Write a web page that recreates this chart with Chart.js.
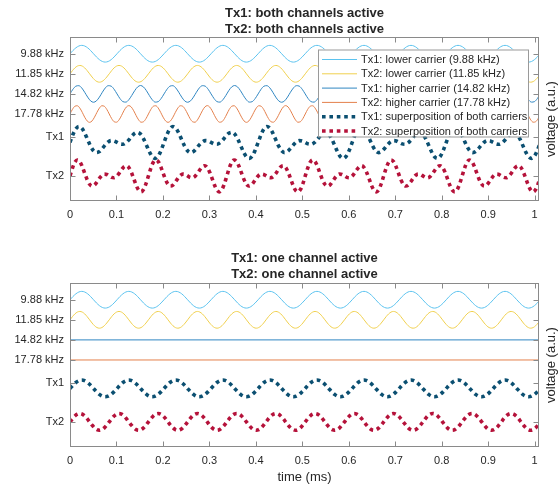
<!DOCTYPE html>
<html><head><meta charset="utf-8">
<script src="https://cdn.jsdelivr.net/npm/chart.js@4.4.1/dist/chart.umd.min.js"></script>
<style>
html,body{margin:0;padding:0;background:#fff;}
#wrap{position:relative;width:559px;height:485px;overflow:hidden;}
.box{position:absolute;left:0;width:559px;}
canvas{display:block;}
</style></head><body>
<div id="wrap">
<div class="box" style="top:0;height:240px"><canvas id="c1" width="559" height="240"></canvas></div>
<div class="box" style="top:240px;height:245px"><canvas id="c2" width="559" height="245"></canvas></div>
</div>
<script>
// ---------- DATA ----------
// sample times (ms), grid for the Tx1 carriers (9.88 / 14.82 kHz)
const timeA = [
0,.0063,.0127,.0190,.0253,.0316,.0380,.0443,.0506,.0569,.0633,.0696,.0759,.0822,.0886,.0949,
.1012,.1075,.1139,.1202,.1265,.1328,.1392,.1455,.1518,.1581,.1645,.1708,.1771,.1835,.1898,.1961,
.2024,.2088,.2151,.2214,.2277,.2341,.2404,.2467,.2530,.2594,.2657,.2720,.2783,.2847,.2910,.2973,
.3036,.3100,.3163,.3226,.3289,.3353,.3416,.3479,.3543,.3606,.3669,.3732,.3796,.3859,.3922,.3985,
.4049,.4112,.4175,.4238,.4302,.4365,.4428,.4491,.4555,.4618,.4681,.4744,.4808,.4871,.4934,.4997,
.5061,.5124,.5187,.5251,.5314,.5377,.5440,.5504,.5567,.5630,.5693,.5757,.5820,.5883,.5946,.6010,
.6073,.6136,.6199,.6263,.6326,.6389,.6452,.6516,.6579,.6642,.6705,.6769,.6832,.6895,.6959,.7022,
.7085,.7148,.7212,.7275,.7338,.7401,.7465,.7528,.7591,.7654,.7718,.7781,.7844,.7907,.7971,.8034,
.8097,.8160,.8224,.8287,.8350,.8413,.8477,.8540,.8603,.8667,.8730,.8793,.8856,.8920,.8983,.9046,
.9109,.9173,.9236,.9299,.9362,.9426,.9489,.9552,.9615,.9679,.9742,.9805,.9868,.9932,.9995,1.0058,
1.0122];
// sample times (ms), grid for the Tx2 carriers (11.85 / 17.78 kHz)
const timeB = [
0,.0053,.0105,.0158,.0211,.0264,.0316,.0369,.0422,.0475,.0527,.0580,.0633,.0686,.0738,.0791,
.0844,.0897,.0949,.1002,.1055,.1108,.1160,.1213,.1266,.1319,.1371,.1424,.1477,.1530,.1582,.1635,
.1688,.1741,.1793,.1846,.1899,.1951,.2004,.2057,.2110,.2162,.2215,.2268,.2321,.2373,.2426,.2479,
.2532,.2584,.2637,.2690,.2743,.2795,.2848,.2901,.2954,.3006,.3059,.3112,.3165,.3217,.3270,.3323,
.3376,.3428,.3481,.3534,.3586,.3639,.3692,.3745,.3797,.3850,.3903,.3956,.4008,.4061,.4114,.4167,
.4219,.4272,.4325,.4378,.4430,.4483,.4536,.4589,.4641,.4694,.4747,.4800,.4852,.4905,.4958,.5011,
.5063,.5116,.5169,.5222,.5274,.5327,.5380,.5432,.5485,.5538,.5591,.5643,.5696,.5749,.5802,.5854,
.5907,.5960,.6013,.6065,.6118,.6171,.6224,.6276,.6329,.6382,.6435,.6487,.6540,.6593,.6646,.6698,
.6751,.6804,.6857,.6909,.6962,.7015,.7068,.7120,.7173,.7226,.7278,.7331,.7384,.7437,.7489,.7542,
.7595,.7648,.7700,.7753,.7806,.7859,.7911,.7964,.8017,.8070,.8122,.8175,.8228,.8281,.8333,.8386,
.8439,.8492,.8544,.8597,.8650,.8703,.8755,.8808,.8861,.8914,.8966,.9019,.9072,.9124,.9177,.9230,
.9283,.9335,.9388,.9441,.9494,.9546,.9599,.9652,.9705,.9757,.9810,.9863,.9916,.9968,1.0021,1.0074,
1.0127];
// Tx1 lower carrier, 9.88 kHz (a.u.)
const lower988 = [
0,.383,.707,.924,1,.924,.707,.383,0,-.383,-.707,-.924,-1,-.924,-.707,-.383,
0,.383,.707,.924,1,.924,.707,.383,0,-.383,-.707,-.924,-1,-.924,-.707,-.383,
0,.383,.707,.924,1,.924,.707,.383,0,-.383,-.707,-.924,-1,-.924,-.707,-.383,
0,.383,.707,.924,1,.924,.707,.383,0,-.383,-.707,-.924,-1,-.924,-.707,-.383,
0,.383,.707,.924,1,.924,.707,.383,0,-.383,-.707,-.924,-1,-.924,-.707,-.383,
0,.383,.707,.924,1,.924,.707,.383,0,-.383,-.707,-.924,-1,-.924,-.707,-.383,
0,.383,.707,.924,1,.924,.707,.383,0,-.383,-.707,-.924,-1,-.924,-.707,-.383,
0,.383,.707,.924,1,.924,.707,.383,0,-.383,-.707,-.924,-1,-.924,-.707,-.383,
0,.383,.707,.924,1,.924,.707,.383,0,-.383,-.707,-.924,-1,-.924,-.707,-.383,
0,.383,.707,.924,1,.924,.707,.383,0,-.383,-.707,-.924,-1,-.924,-.707,-.383,
0];
// Tx2 lower carrier, 11.85 kHz (a.u.)
const lower1185 = [
0,.383,.707,.924,1,.924,.707,.383,0,-.383,-.707,-.924,-1,-.924,-.707,-.383,
0,.383,.707,.924,1,.924,.707,.383,0,-.383,-.707,-.924,-1,-.924,-.707,-.383,
0,.383,.707,.924,1,.924,.707,.383,0,-.383,-.707,-.924,-1,-.924,-.707,-.383,
0,.383,.707,.924,1,.924,.707,.383,0,-.383,-.707,-.924,-1,-.924,-.707,-.383,
0,.383,.707,.924,1,.924,.707,.383,0,-.383,-.707,-.924,-1,-.924,-.707,-.383,
0,.383,.707,.924,1,.924,.707,.383,0,-.383,-.707,-.924,-1,-.924,-.707,-.383,
0,.383,.707,.924,1,.924,.707,.383,0,-.383,-.707,-.924,-1,-.924,-.707,-.383,
0,.383,.707,.924,1,.924,.707,.383,0,-.383,-.707,-.924,-1,-.924,-.707,-.383,
0,.383,.707,.924,1,.924,.707,.383,0,-.383,-.707,-.924,-1,-.924,-.707,-.383,
0,.383,.707,.924,1,.924,.707,.383,0,-.383,-.707,-.924,-1,-.924,-.707,-.383,
0,.383,.707,.924,1,.924,.707,.383,0,-.383,-.707,-.924,-1,-.924,-.707,-.383,
0,.383,.707,.924,1,.924,.707,.383,0,-.383,-.707,-.924,-1,-.924,-.707,-.383,
0];
// Tx1 higher carrier, 14.82 kHz (a.u.)
const higher1482 = [
0,.556,.924,.981,.707,.195,-.383,-.831,-1,-.831,-.383,.195,.707,.981,.924,.556,0,-.556,-.924,-.981,-.707,-.195,.383,.831,1,.831,.383,-.195,-.707,-.981,-.924,-.556,
0,.556,.924,.981,.707,.195,-.383,-.831,-1,-.831,-.383,.195,.707,.981,.924,.556,0,-.556,-.924,-.981,-.707,-.195,.383,.831,1,.831,.383,-.195,-.707,-.981,-.924,-.556,
0,.556,.924,.981,.707,.195,-.383,-.831,-1,-.831,-.383,.195,.707,.981,.924,.556,0,-.556,-.924,-.981,-.707,-.195,.383,.831,1,.831,.383,-.195,-.707,-.981,-.924,-.556,
0,.556,.924,.981,.707,.195,-.383,-.831,-1,-.831,-.383,.195,.707,.981,.924,.556,0,-.556,-.924,-.981,-.707,-.195,.383,.831,1,.831,.383,-.195,-.707,-.981,-.924,-.556,
0,.556,.924,.981,.707,.195,-.383,-.831,-1,-.831,-.383,.195,.707,.981,.924,.556,0,-.556,-.924,-.981,-.707,-.195,.383,.831,1,.831,.383,-.195,-.707,-.981,-.924,-.556,
0];
// Tx2 higher carrier, 17.78 kHz (a.u.)
const higher1778 = [
0,.556,.924,.981,.707,.195,-.383,-.831,-1,-.831,-.383,.195,.707,.981,.924,.556,0,-.556,-.924,-.981,-.707,-.195,.383,.831,1,.831,.383,-.195,-.707,-.981,-.924,-.556,
0,.556,.924,.981,.707,.195,-.383,-.831,-1,-.831,-.383,.195,.707,.981,.924,.556,0,-.556,-.924,-.981,-.707,-.195,.383,.831,1,.831,.383,-.195,-.707,-.981,-.924,-.556,
0,.556,.924,.981,.707,.195,-.383,-.831,-1,-.831,-.383,.195,.707,.981,.924,.556,0,-.556,-.924,-.981,-.707,-.195,.383,.831,1,.831,.383,-.195,-.707,-.981,-.924,-.556,
0,.556,.924,.981,.707,.195,-.383,-.831,-1,-.831,-.383,.195,.707,.981,.924,.556,0,-.556,-.924,-.981,-.707,-.195,.383,.831,1,.831,.383,-.195,-.707,-.981,-.924,-.556,
0,.556,.924,.981,.707,.195,-.383,-.831,-1,-.831,-.383,.195,.707,.981,.924,.556,0,-.556,-.924,-.981,-.707,-.195,.383,.831,1,.831,.383,-.195,-.707,-.981,-.924,-.556,
0,.556,.924,.981,.707,.195,-.383,-.831,-1,-.831,-.383,.195,.707,.981,.924,.556,0,-.556,-.924,-.981,-.707,-.195,.383,.831,1,.831,.383,-.195,-.707,-.981,-.924,-.556,
0];
// Tx1 superposition of both carriers, both channels active (a.u.)
const tx1Both = [
0,.939,1.631,1.905,1.707,1.119,.324,-.448,-1,-1.214,-1.09,-.729,-.293,.057,.217,.173,0,-.173,-.217,-.057,.293,.729,1.09,1.214,1,.448,-.324,-1.119,-1.707,-1.905,-1.631,-.939,
0,.939,1.631,1.905,1.707,1.119,.324,-.448,-1,-1.214,-1.09,-.729,-.293,.057,.217,.173,0,-.173,-.217,-.057,.293,.729,1.09,1.214,1,.448,-.324,-1.119,-1.707,-1.905,-1.631,-.939,
0,.939,1.631,1.905,1.707,1.119,.324,-.448,-1,-1.214,-1.09,-.729,-.293,.057,.217,.173,0,-.173,-.217,-.057,.293,.729,1.09,1.214,1,.448,-.324,-1.119,-1.707,-1.905,-1.631,-.939,
0,.939,1.631,1.905,1.707,1.119,.324,-.448,-1,-1.214,-1.09,-.729,-.293,.057,.217,.173,0,-.173,-.217,-.057,.293,.729,1.09,1.214,1,.448,-.324,-1.119,-1.707,-1.905,-1.631,-.939,
0,.939,1.631,1.905,1.707,1.119,.324,-.448,-1,-1.214,-1.09,-.729,-.293,.057,.217,.173,0,-.173,-.217,-.057,.293,.729,1.09,1.214,1,.448,-.324,-1.119,-1.707,-1.905,-1.631,-.939,
0];
// Tx2 superposition of both carriers, both channels active (a.u.)
const tx2Both = [
0,.939,1.631,1.905,1.707,1.119,.324,-.448,-1,-1.214,-1.09,-.729,-.293,.057,.217,.173,0,-.173,-.217,-.057,.293,.729,1.09,1.214,1,.448,-.324,-1.119,-1.707,-1.905,-1.631,-.939,
0,.939,1.631,1.905,1.707,1.119,.324,-.448,-1,-1.214,-1.09,-.729,-.293,.057,.217,.173,0,-.173,-.217,-.057,.293,.729,1.09,1.214,1,.448,-.324,-1.119,-1.707,-1.905,-1.631,-.939,
0,.939,1.631,1.905,1.707,1.119,.324,-.448,-1,-1.214,-1.09,-.729,-.293,.057,.217,.173,0,-.173,-.217,-.057,.293,.729,1.09,1.214,1,.448,-.324,-1.119,-1.707,-1.905,-1.631,-.939,
0,.939,1.631,1.905,1.707,1.119,.324,-.448,-1,-1.214,-1.09,-.729,-.293,.057,.217,.173,0,-.173,-.217,-.057,.293,.729,1.09,1.214,1,.448,-.324,-1.119,-1.707,-1.905,-1.631,-.939,
0,.939,1.631,1.905,1.707,1.119,.324,-.448,-1,-1.214,-1.09,-.729,-.293,.057,.217,.173,0,-.173,-.217,-.057,.293,.729,1.09,1.214,1,.448,-.324,-1.119,-1.707,-1.905,-1.631,-.939,
0,.939,1.631,1.905,1.707,1.119,.324,-.448,-1,-1.214,-1.09,-.729,-.293,.057,.217,.173,0,-.173,-.217,-.057,.293,.729,1.09,1.214,1,.448,-.324,-1.119,-1.707,-1.905,-1.631,-.939,
0];
// one channel active: Tx1 = lower carrier only, Tx2 = lower carrier only, higher carriers off
const tx1One = lower988;
const tx2One = lower1185;
const offTimes = [0, 1.02];
const offValues = [0, 0];

const seriesLabels = [
  'Tx1: lower carrier (9.88 kHz)',
  'Tx2: lower carrier (11.85 kHz)',
  'Tx1: higher carrier (14.82 kHz)',
  'Tx2: higher carrier (17.78 kHz)',
  'Tx1: superposition of both carriers',
  'Tx2: superposition of both carriers'
];
const yTickLabels = ['Tx2', 'Tx1', '17.78 kHz', '14.82 kHz', '11.85 kHz', '9.88 kHz'];
const xTickValues = [0, 0.1, 0.2, 0.3, 0.4, 0.5, 0.6, 0.7, 0.8, 0.9, 1];
const xTickLabels = ['0', '0.1', '0.2', '0.3', '0.4', '0.5', '0.6', '0.7', '0.8', '0.9', '1'];
const titlesTop = ['Tx1: both channels active', 'Tx2: both channels active'];
const titlesBottom = ['Tx1: one channel active', 'Tx2: one channel active'];
const xAxisLabel = 'time (ms)';
const yAxisLabel = 'voltage (a.u.)';

// ---------- LAYOUT / STYLE ----------
const LANE = { l988: 17.6, l1185: 15.2, h1482: 12.8, h1778: 10.4, tx1: 7.0, tx2: 3.0 };
const yTickPos = [3.0, 7.7, 10.4, 12.8, 15.2, 17.6];
const COL = { l988: '#5CC3EF', l1185: '#F0D04E', h1482: '#2F86C2', h1778: '#E4804C', tx1: '#0B4F71', tx2: '#B5123A' };
const FONT = '"Liberation Sans", Arial, Helvetica, sans-serif';
const TXT = '#262626';
const AXC = '#8a8a8a';

function pts(times, vals, off) { return times.map((t, i) => ({ x: t, y: vals[i] + off })); }

function thin(label, data, color) {
  return { label, data, borderColor: color, borderWidth: 1, pointRadius: 0, fill: false,
           cubicInterpolationMode: 'monotone', clip: 0 };
}
function dotted(label, data, color) {
  return { label, data, borderColor: color, borderWidth: 3.6, borderDash: [3.6, 3.8], borderCapStyle: 'butt',
           pointRadius: 0, fill: false, cubicInterpolationMode: 'monotone', clip: 0 };
}

const framePlugin = {
  id: 'frame',
  afterDraw(chart, args, o) {
    const { ctx, chartArea: a, scales: { x, y } } = chart;
    ctx.save();
    // legend
    if (o.legend) {
      const lx = 318, ly = 49.5, lw = 210, lh = 87;
      ctx.fillStyle = '#fff';
      ctx.fillRect(lx, ly, lw, lh);
      ctx.strokeStyle = '#9a9a9a'; ctx.lineWidth = 1;
      ctx.strokeRect(lx + 0.5, ly + 0.5, lw, lh);
      ctx.font = '11px ' + FONT;
      ctx.textBaseline = 'middle'; ctx.textAlign = 'left';
      chart.data.datasets.forEach((ds, i) => {
        const ry = 59.5 + i * 14.3;
        ctx.save();
        ctx.strokeStyle = ds.borderColor;
        ctx.lineWidth = ds.borderWidth;
        ctx.setLineDash(ds.borderDash || []);
        ctx.lineCap = 'butt';
        ctx.beginPath(); ctx.moveTo(322, ry); ctx.lineTo(357, ry); ctx.stroke();
        ctx.restore();
        ctx.fillStyle = TXT;
        ctx.fillText(ds.label, 361, ry + 0.5);
      });
    }
    // frame
    ctx.strokeStyle = AXC; ctx.lineWidth = 1;
    const L = Math.round(a.left) + 0.5, R = Math.round(a.right) - 0.5, T = Math.round(a.top) + 0.5, B = Math.round(a.bottom) - 0.5;
    ctx.strokeRect(L, T, R - L, B - T);
    ctx.beginPath();
    x.ticks.forEach(t => {
      const px = Math.round(x.getPixelForValue(t.value)) + 0.5;
      ctx.moveTo(px, B); ctx.lineTo(px, B - 5);
      ctx.moveTo(px, T); ctx.lineTo(px, T + 5);
    });
    y.ticks.forEach(t => {
      const py = Math.round(y.getPixelForValue(t.value)) + 0.5;
      ctx.moveTo(L, py); ctx.lineTo(L + 5, py);
      ctx.moveTo(R, py); ctx.lineTo(R - 5, py);
    });
    ctx.stroke();
    // titles
    ctx.fillStyle = TXT;
    ctx.textAlign = 'center'; ctx.textBaseline = 'middle';
    ctx.font = 'bold 13px ' + FONT;
    const cx = (a.left + a.right) / 2;
    o.titles.forEach((s, i) => ctx.fillText(s, cx, o.titleY[i]));
    // right axis label
    ctx.font = '13px ' + FONT;
    ctx.save();
    ctx.translate(551, (a.top + a.bottom) / 2);
    ctx.rotate(-Math.PI / 2);
    ctx.fillText(yAxisLabel, 0, 0);
    ctx.restore();
    if (o.xLabelY) ctx.fillText(xAxisLabel, cx, o.xLabelY);
    ctx.restore();
  }
};

function makeChart(id, datasets, opt) {
  const H = opt.height;
  return new Chart(document.getElementById(id), {
    type: 'line',
    data: { datasets },
    plugins: [framePlugin],
    options: {
      responsive: false, animation: false, events: [], devicePixelRatio: 1,
      layout: { padding: { top: opt.top, right: 20, left: 0, bottom: 0 } },
      plugins: {
        legend: { display: false }, tooltip: { enabled: false }, title: { display: false },
        frame: { legend: opt.legend, titles: opt.titles, titleY: opt.titleY, xLabelY: opt.xLabelY }
      },
      scales: {
        x: {
          type: 'linear', min: 0, max: 1.0093,
          grid: { display: false, drawTicks: false, tickLength: 0 }, border: { display: false },
          afterBuildTicks: s => { s.ticks = xTickValues.map(v => ({ value: v })); },
          afterFit: s => { s.height = H - opt.bottom; },
          ticks: { autoSkip: false, maxRotation: 0, padding: 7, color: TXT, font: { family: FONT, size: 11 },
                   callback: (v, i) => xTickLabels[i] }
        },
        y: {
          type: 'linear', min: 0, max: 19.6,
          grid: { display: false, drawTicks: false, tickLength: 0 }, border: { display: false },
          afterBuildTicks: s => { s.ticks = yTickPos.map(v => ({ value: v })); },
          afterFit: s => { s.width = 70; },
          ticks: { autoSkip: false, padding: 6, color: TXT, font: { family: FONT, size: 11 },
                   callback: (v, i) => yTickLabels[i] }
        }
      }
    }
  });
}

makeChart('c1', [
  thin(seriesLabels[0], pts(timeA, lower988, LANE.l988), COL.l988),
  thin(seriesLabels[1], pts(timeB, lower1185, LANE.l1185), COL.l1185),
  thin(seriesLabels[2], pts(timeA, higher1482, LANE.h1482), COL.h1482),
  thin(seriesLabels[3], pts(timeB, higher1778, LANE.h1778), COL.h1778),
  dotted(seriesLabels[4], pts(timeA, tx1Both, LANE.tx1), COL.tx1),
  dotted(seriesLabels[5], pts(timeB, tx2Both, LANE.tx2), COL.tx2)
], { height: 240, top: 37, bottom: 201, legend: true, titles: titlesTop, titleY: [13, 29] });

makeChart('c2', [
  thin(seriesLabels[0], pts(timeA, lower988, LANE.l988), COL.l988),
  thin(seriesLabels[1], pts(timeB, lower1185, LANE.l1185), COL.l1185),
  thin(seriesLabels[2], pts(offTimes, offValues, LANE.h1482), COL.h1482),
  thin(seriesLabels[3], pts(offTimes, offValues, LANE.h1778), COL.h1778),
  dotted(seriesLabels[4], pts(timeA, tx1One, LANE.tx1), COL.tx1),
  dotted(seriesLabels[5], pts(timeB, tx2One, LANE.tx2), COL.tx2)
], { height: 245, top: 43, bottom: 207, legend: false, titles: titlesBottom, titleY: [18.3, 34.3], xLabelY: 237 });
</script>
</body></html>
